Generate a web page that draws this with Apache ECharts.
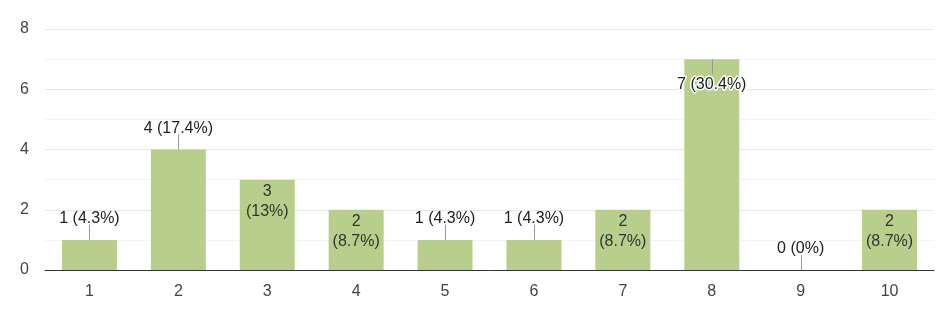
<!DOCTYPE html>
<html>
<head>
<meta charset="utf-8">
<script src="https://cdn.jsdelivr.net/npm/echarts@6/dist/echarts.min.js"></script>
<style>html,body{margin:0;padding:0;background:#fff}#c{width:936px;height:312px}</style>
</head>
<body>
<div id="c"></div>
<script>
const categories = ['1', '2', '3', '4', '5', '6', '7', '8', '9', '10'];
const counts = [1, 4, 3, 2, 1, 1, 2, 7, 0, 2];
const percents = ['4.3%', '17.4%', '13%', '8.7%', '4.3%', '4.3%', '8.7%', '30.4%', '0%', '8.7%'];
const yTicks = [0, 2, 4, 6, 8];

const FONT = '"Liberation Sans", Arial, sans-serif';
const barColor = '#b7cf8a';
// label placement per bar: 'above' (with leader), 'inside' (two lines), 'insideTop' (leader down, haloed)
const placement = ['above', 'above', 'inside', 'inside', 'above', 'above', 'inside', 'insideTop', 'above', 'inside'];

const barData = counts.map((v, i) => {
  const mode = placement[i];
  let label;
  if (mode === 'above') {
    label = { show: true, position: 'top', distance: 13, formatter: v + ' (' + percents[i] + ')', color: '#222' };
  } else if (mode === 'inside') {
    label = { show: true, position: 'insideTop', distance: 2, lineHeight: 20, formatter: v + '\n(' + percents[i] + ')', color: '#333' };
  } else {
    label = { show: true, position: 'insideTop', distance: 17, formatter: v + ' (' + percents[i] + ')', color: '#222', textBorderColor: '#fff', textBorderWidth: 3 };
  }
  return { value: v, label: label };
});

const leaderData = counts.map((v, i) => [i, v, placement[i] === 'insideTop' ? 1 : (placement[i] === 'above' ? -1 : 0)]);

const chart = echarts.init(document.getElementById('c'), null, { renderer: 'canvas' });
chart.setOption({
  animation: false,
  textStyle: { fontFamily: FONT },
  grid: { left: 45, right: 2, top: 29, bottom: 42, containLabel: false },
  xAxis: {
    type: 'category',
    data: categories,
    boundaryGap: true,
    axisTick: { show: false },
    axisLine: { show: true, lineStyle: { color: '#333', width: 1 } },
    axisLabel: { color: '#444', fontSize: 16, margin: 14, fontFamily: FONT },
    splitLine: { show: false }
  },
  yAxis: {
    type: 'value',
    min: yTicks[0],
    max: yTicks[yTicks.length - 1],
    interval: 2,
    axisLine: { show: false },
    axisTick: { show: false },
    axisLabel: { color: '#444', fontSize: 16, margin: 16, fontFamily: FONT },
    splitLine: { show: true, lineStyle: { color: '#e6e6e6', width: 1 } },
    minorTick: { show: false, splitNumber: 2 },
    minorSplitLine: { show: true, lineStyle: { color: '#f3f3f3', width: 1 } }
  },
  series: [
    {
      type: 'bar',
      data: barData,
      barWidth: 55,
      itemStyle: { color: barColor },
      label: { fontSize: 16, fontFamily: FONT },
      z: 2
    },
    {
      type: 'custom',
      data: leaderData,
      z: 3,
      silent: true,
      renderItem: function (params, api) {
        const dir = api.value(2);
        if (dir === 0) return null;
        const p = api.coord([api.value(0), api.value(1)]);
        const x = Math.round(p[0]) + 0.5;
        return {
          type: 'line',
          shape: { x1: x, y1: p[1], x2: x, y2: p[1] + dir * 15 },
          style: { stroke: '#999', lineWidth: 1 }
        };
      }
    }
  ]
});
</script>
</body>
</html>
